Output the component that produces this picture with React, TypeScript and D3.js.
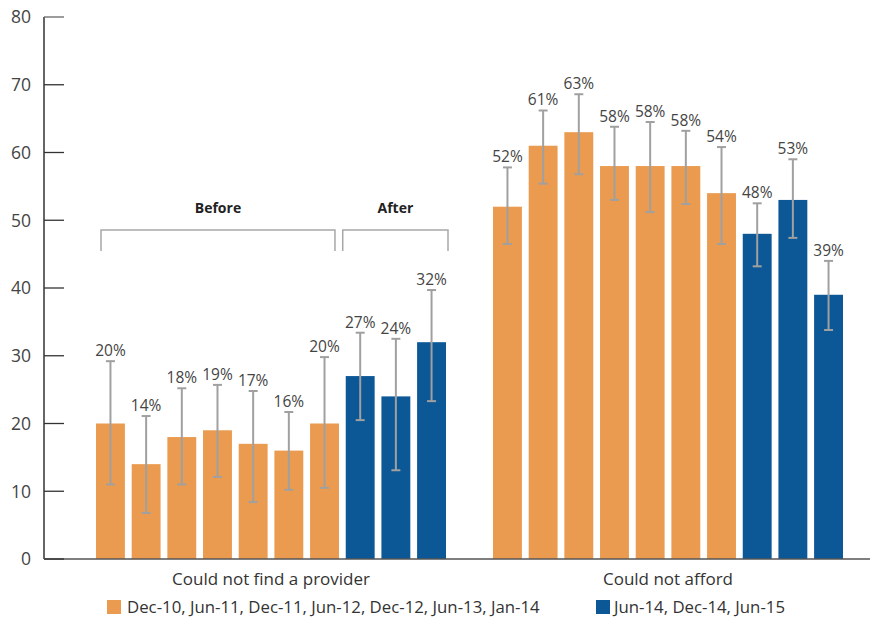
import React from "react";
import * as d3 from "d3";

const groups = ["Could not find a provider", "Could not afford"];
const periods = ["Dec-10", "Jun-11", "Dec-11", "Jun-12", "Dec-12", "Jun-13", "Jan-14", "Jun-14", "Dec-14", "Jun-15"];
const afterPeriods = ["Jun-14", "Dec-14", "Jun-15"];
const providerValues = [20, 14, 18, 19, 17, 16, 20, 27, 24, 32];
const providerLow = [11.0, 6.8, 11.0, 12.1, 8.4, 10.2, 10.5, 20.5, 13.1, 23.3];
const providerHigh = [29.2, 21.1, 25.2, 25.7, 24.8, 21.7, 29.8, 33.4, 32.5, 39.7];
const affordValues = [52, 61, 63, 58, 58, 58, 54, 48, 53, 39];
const affordLow = [46.5, 55.4, 56.8, 53.0, 51.2, 52.4, 46.5, 43.2, 47.4, 33.8];
const affordHigh = [57.8, 66.2, 68.6, 63.8, 64.5, 63.2, 60.8, 52.5, 59.0, 44.0];
const yTicks = [0, 10, 20, 30, 40, 50, 60, 70, 80];
const legendLabels = ["Dec-10, Jun-11, Dec-11, Jun-12, Dec-12, Jun-13, Jan-14", "Jun-14, Dec-14, Jun-15"];
const bracketLabels = ["Before", "After"];

const ORANGE = "#EA9B4F";
const BLUE = "#0C5796";
const ERR = "#A0A0A0";
const FONT = "'Open Sans', 'Noto Sans', sans-serif";

export default function App() {
  const W = 874, H = 618;
  const y = d3.scaleLinear().domain([0, 80]).range([559, 17]);
  const x0 = d3.scaleBand<string>().domain(groups).range([96, 843]).paddingInner(47 / 397).paddingOuter(0);
  const x1 = d3.scaleBand<string>().domain(periods).range([0, x0.bandwidth()]).paddingInner(0.19).paddingOuter(0);
  const data = [
    { g: groups[0], v: providerValues, lo: providerLow, hi: providerHigh },
    { g: groups[1], v: affordValues, lo: affordLow, hi: affordHigh },
  ];
  const bw = x1.bandwidth();
  const gx = x0(groups[0])!;
  const beforeL = gx + x1(periods[0])! + 5;
  const beforeR = gx + x1(periods[6])! + bw - 4;
  const afterL = gx + x1(periods[7])! - 3;
  const afterR = gx + x1(periods[9])! + bw + 2;
  const bTop = 230, bBot = 251;

  return (
    <svg width={W} height={H} style={{ position: "absolute", left: 0, top: 0, background: "#fff" }} fontFamily={FONT}>
      {/* y axis */}
      <line x1={44} x2={44} y1={y(80)} y2={y(0)} stroke="#333" strokeWidth={1.5} />
      {yTicks.map((t) => (
        <g key={t}>
          <line x1={44} x2={64} y1={y(t)} y2={y(t)} stroke={t === 80 ? "#666" : "#333"} strokeWidth={t === 0 ? 2 : 1.3} />
          <text x={31} y={y(t)} dy="0.36em" textAnchor="end" fontSize={17.5} fill="#444">{t}</text>
        </g>
      ))}
      {/* bars */}
      {data.map((d) => (
        <g key={d.g} transform={`translate(${x0(d.g)},0)`}>
          {periods.map((p, i) => {
            const cx = x1(p)! + bw / 2;
            return (
              <g key={p}>
                <rect x={x1(p)} y={y(d.v[i])} width={bw} height={y(0) - y(d.v[i])} fill={afterPeriods.includes(p) ? BLUE : ORANGE} />
                <line x1={cx} x2={cx} y1={y(d.lo[i])} y2={y(d.hi[i])} stroke={ERR} strokeWidth={2} />
                <line x1={cx - 4.5} x2={cx + 4.5} y1={y(d.lo[i])} y2={y(d.lo[i])} stroke={ERR} strokeWidth={2} />
                <line x1={cx - 4.5} x2={cx + 4.5} y1={y(d.hi[i])} y2={y(d.hi[i])} stroke={ERR} strokeWidth={2} />
                <text x={cx} y={y(d.hi[i]) - 5} textAnchor="middle" fontSize={15.5} fill="#444">{d.v[i]}%</text>
              </g>
            );
          })}
          <text x={x0.bandwidth() / 2} y={585} textAnchor="middle" fontSize={17} fill="#333">{d.g}</text>
        </g>
      ))}
      {/* x axis */}
      <line x1={44} x2={870} y1={y(0)} y2={y(0)} stroke="#555" strokeWidth={1.5} />
      {/* brackets */}
      {[[beforeL, beforeR], [afterL, afterR]].map(([l, r], i) => (
        <g key={i}>
          <path d={`M${l},${bBot}V${bTop}H${r}V${bBot}`} fill="none" stroke="#A8A8A8" strokeWidth={1.5} />
          <text x={(l + r) / 2} y={213} textAnchor="middle" fontSize={14} fontWeight="bold" fill="#222">{bracketLabels[i]}</text>
        </g>
      ))}
      {/* legend */}
      <rect x={107} y={600} width={14} height={14} fill={ORANGE} />
      <text x={127} y={613} fontSize={16.8} fill="#333">{legendLabels[0]}</text>
      <rect x={596} y={600} width={14} height={14} fill={BLUE} />
      <text x={614} y={613} fontSize={16.8} fill="#333">{legendLabels[1]}</text>
    </svg>
  );
}
